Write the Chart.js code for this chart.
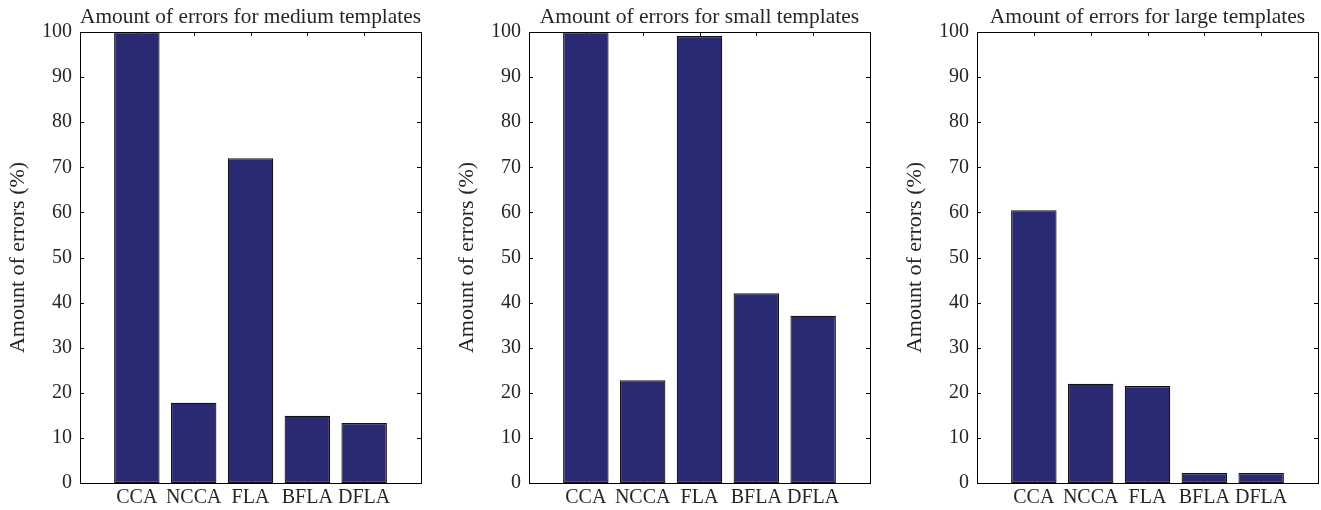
<!DOCTYPE html>
<html>
<head>
<meta charset="utf-8">
<script src="https://cdn.jsdelivr.net/npm/chart.js@4/dist/chart.umd.min.js"></script>
<style>
  body { margin: 0; background: #fff; overflow: hidden; }
  .panel { position: absolute; top: 0; }
</style>
</head>
<body>
<div class="panel" style="left:0px"><canvas id="mediumChart" width="424" height="510"></canvas></div>
<div class="panel" style="left:449px"><canvas id="smallChart" width="424" height="510"></canvas></div>
<div class="panel" style="left:897px"><canvas id="largeChart" width="424" height="510"></canvas></div>
<script>
// Data
const methods = ["CCA", "NCCA", "FLA", "BFLA", "DFLA"];
const mediumErrors = [100, 17.8, 72.0, 14.9, 13.3];
const smallErrors = [100, 22.8, 99.1, 42.1, 37.1];
const largeErrors = [60.5, 22.0, 21.5, 2.2, 2.2];
const yTicks = [0, 10, 20, 30, 40, 50, 60, 70, 80, 90, 100];

const serif = "'Liberation Serif', 'DejaVu Serif', serif";
const textColor = "#262626";
const barColor = "#2a2a73";

// Box around the plot with inward ticks (matlab style)
const boxPlugin = {
  id: "box",
  beforeDatasetsDraw(chart) {
    const { ctx, chartArea: a, scales } = chart;
    ctx.save();
    ctx.strokeStyle = "#000";
    ctx.lineWidth = 1;
    ctx.beginPath();
    yTicks.forEach((v) => {
      const y = Math.round(scales.y.getPixelForValue(v)) + 0.5;
      ctx.moveTo(a.left, y);
      ctx.lineTo(a.left + 4, y);
      ctx.moveTo(a.right, y);
      ctx.lineTo(a.right - 4, y);
    });
    methods.forEach((m, i) => {
      const x = Math.round(scales.x.getPixelForValue(i + 1)) + 0.5;
      ctx.moveTo(x, a.top);
      ctx.lineTo(x, a.top + 4);
      ctx.moveTo(x, a.bottom);
      ctx.lineTo(x, a.bottom - 4);
    });
    ctx.stroke();
    ctx.restore();
  },
  afterDatasetsDraw(chart) {
    const { ctx, chartArea: a } = chart;
    ctx.save();
    ctx.strokeStyle = "#000";
    ctx.lineWidth = 1;
    ctx.strokeRect(
      Math.round(a.left) + 0.5,
      Math.round(a.top) + 0.5,
      Math.round(a.right - a.left),
      Math.round(a.bottom - a.top)
    );
    ctx.restore();
  },
};

function makeChart(id, title, values) {
  // empty slots on both ends give the 0..6 x range
  const labels = [""].concat(methods, [""]);
  const data = [null].concat(values, [null]);
  return new Chart(document.getElementById(id), {
    type: "bar",
    data: {
      labels: labels,
      datasets: [
        {
          data: data,
          backgroundColor: barColor,
          borderColor: "#111",
          borderWidth: 1.2,
          borderSkipped: false,
          barPercentage: 0.8,
          categoryPercentage: 1.0,
        },
      ],
    },
    options: {
      responsive: false,
      animation: false,
      devicePixelRatio: 1,
      layout: { padding: { left: 0, right: 3, top: 0, bottom: 0 } },
      plugins: {
        legend: { display: false },
        tooltip: { enabled: false },
        title: {
          display: true,
          text: title,
          fullSize: false,
          color: textColor,
          font: { family: serif, size: 21.5, weight: "normal" },
          padding: { top: 4, bottom: 2.2 },
        },
      },
      scales: {
        x: {
          offset: false,
          grid: { display: false, drawTicks: false },
          border: { display: false },
          ticks: {
            autoSkip: false,
            maxRotation: 0,
            padding: 3,
            color: textColor,
            font: { family: serif, size: 20 },
          },
          afterFit: function (scale) {
            scale.height = 27;
          },
        },
        y: {
          min: 0,
          max: 100,
          grid: { display: false, drawTicks: false },
          border: { display: false },
          ticks: {
            stepSize: 10,
            padding: 8,
            color: textColor,
            font: { family: serif, size: 20 },
          },
          title: {
            display: true,
            text: "Amount of errors (%)",
            color: textColor,
            font: { family: serif, size: 22 },
            padding: { top: 5, bottom: 0 },
          },
          afterFit: function (scale) {
            scale.width = 80;
          },
        },
      },
    },
    plugins: [boxPlugin],
  });
}

makeChart("mediumChart", "Amount of errors for medium templates", mediumErrors);
makeChart("smallChart", "Amount of errors for small templates", smallErrors);
makeChart("largeChart", "Amount of errors for large templates", largeErrors);
</script>
</body>
</html>
